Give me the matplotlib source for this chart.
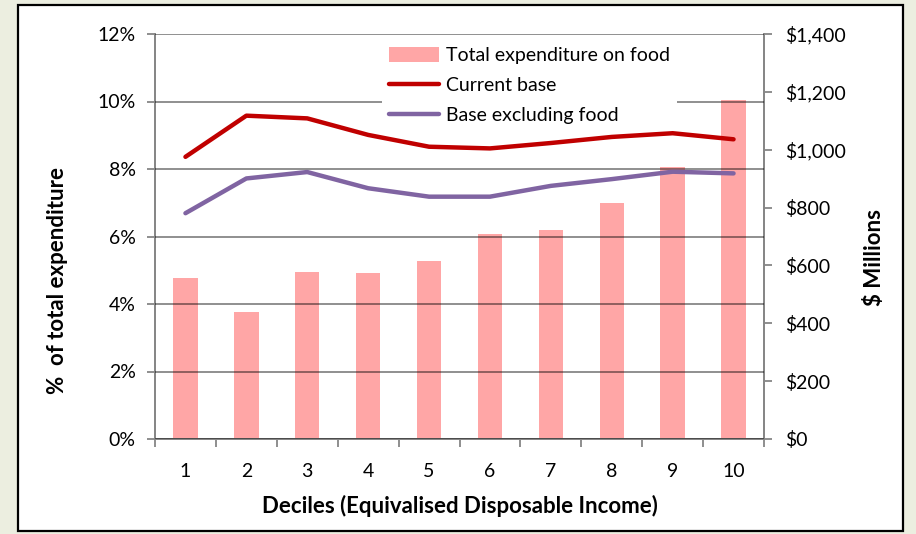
import matplotlib.pyplot as plt
from matplotlib.lines import Line2D
from matplotlib.patches import Patch, Rectangle
from matplotlib.ticker import FuncFormatter, MultipleLocator

plt.rcParams["font.family"] = ["Lato", "DejaVu Sans"]

deciles = ["1", "2", "3", "4", "5", "6", "7", "8", "9", "10"]
food_spend = [557, 440, 577, 573, 614, 709, 722, 816, 940, 1172]  # $ millions
current_base = [8.36, 9.58, 9.50, 9.01, 8.66, 8.61, 8.77, 8.95, 9.06, 8.88]  # %
base_excl_food = [6.69, 7.72, 7.91, 7.43, 7.18, 7.18, 7.50, 7.70, 7.92, 7.87]  # %

bar_color = "#FFA6A6"
red = "#C00000"
purple = "#8064A2"
axis_gray = "#868686"

fig = plt.figure(figsize=(9.16, 5.34), dpi=100)
fig.patch.set_facecolor("#ECEEE0")
fig.patches.append(Rectangle((18 / 916, 3 / 534), 885 / 916, 526 / 534,
                             transform=fig.transFigure, facecolor="white",
                             edgecolor="black", linewidth=1.6, zorder=-5))

ax = fig.add_axes([155 / 916, 95 / 534, 609 / 916, 405 / 534])
ax2 = ax.twinx()
# line axis on top so its gridlines and lines sit over the bars
ax.set_zorder(ax2.get_zorder() + 1)
ax.patch.set_visible(False)

x = list(range(len(deciles)))
ax2.bar(x, food_spend, width=0.4, color=bar_color, zorder=1)
ax.plot(x, current_base, color=red, linewidth=3.2, solid_capstyle="round", zorder=3)
ax.plot(x, base_excl_food, color=purple, linewidth=3.2, solid_capstyle="round", zorder=3)

ax.set_xlim(-0.5, len(deciles) - 0.5)
ax.set_ylim(0, 12)
ax2.set_ylim(0, 1400)
ax.yaxis.set_major_locator(MultipleLocator(2))
ax2.yaxis.set_major_locator(MultipleLocator(200))
ax.yaxis.set_major_formatter(FuncFormatter(lambda v, _: f"{v:.0f}%"))
ax2.yaxis.set_major_formatter(FuncFormatter(lambda v, _: f"${v:,.0f}"))

ax.set_xticks(x)
ax.set_xticklabels(deciles)
ax.set_xticks([i + 0.5 for i in range(-1, len(deciles))], minor=True)
ax.tick_params(axis="x", which="major", length=0, pad=17, labelsize=14)
ax.tick_params(axis="x", which="minor", length=6, width=1.3, color=axis_gray)
ax.tick_params(axis="y", length=6, width=1.3, color=axis_gray, labelsize=14, pad=8)
ax2.tick_params(axis="y", length=6, width=1.3, color=axis_gray, labelsize=14, pad=9)

ax.grid(axis="y", color="black", alpha=0.47, linewidth=1.3, zorder=2)
ax.set_axisbelow(False)
for a in (ax, ax2):
    a.spines["top"].set_visible(False)
    for s in ("left", "right", "bottom"):
        a.spines[s].set_color(axis_gray)
        a.spines[s].set_linewidth(1.3)

ax.set_xlabel("Deciles (Equivalised Disposable Income)", fontsize=16,
              fontweight="bold", labelpad=11)
ax.set_ylabel("%  of total expenditure", fontsize=16, fontweight="bold")
ax.yaxis.set_label_coords(-(155 - 68) / 609, (439 - 281) / 405)
ax2.set_ylabel("$ Millions", fontsize=16, fontweight="bold")
ax2.yaxis.set_label_coords((864 - 155) / 609, (439 - 258) / 405)

handles = [
    Patch(facecolor=bar_color, label="Total expenditure on food"),
    Line2D([], [], color=red, linewidth=3.2, solid_capstyle="round", label="Current base"),
    Line2D([], [], color=purple, linewidth=3.2, solid_capstyle="round", label="Base excluding food"),
]
leg = ax.legend(handles=handles, loc="upper left", bbox_to_anchor=(227 / 609, 0.985),
                frameon=True, fancybox=False, fontsize=14, handlelength=2.6,
                handleheight=0.8, handletextpad=0.35, labelspacing=0.66,
                borderpad=0.35, borderaxespad=0)
leg.get_frame().set_facecolor("white")
leg.get_frame().set_edgecolor("none")
leg.get_frame().set_alpha(1)
leg.set_zorder(5)

fig.savefig("out.png", dpi=100, facecolor=fig.get_facecolor())
